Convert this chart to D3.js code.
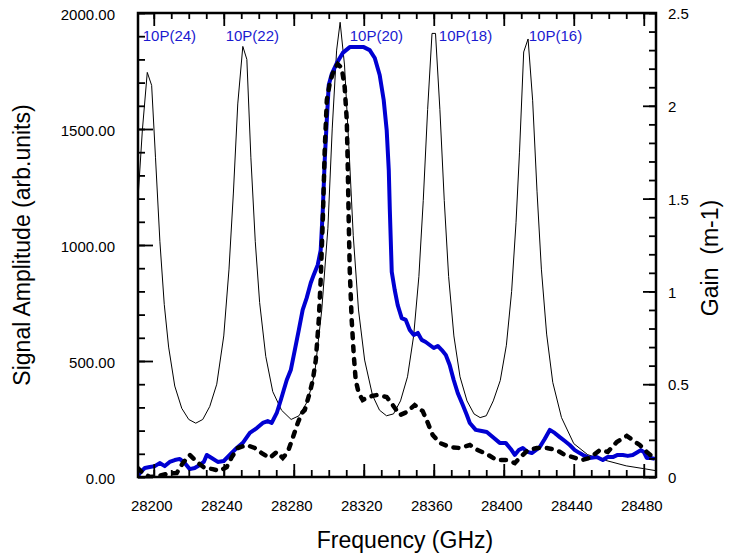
<!DOCTYPE html>
<html>
<head>
<meta charset="utf-8">
<title>Signal amplitude and gain vs frequency</title>
<script src="https://d3js.org/d3.v7.min.js"></script>
<style>
  body { margin: 0; background: #fff; }
  text { font-family: "Liberation Sans", Arial, sans-serif; fill: #000; }
</style>
</head>
<body>
<script>
// thin line: laser gain (right axis, m-1)
const gainFreq = [28191, 28193.5, 28196.3, 28198.8, 28201, 28203.5, 28206, 28208.5, 28212, 28216, 28220, 28224,
  28228, 28232, 28236, 28240, 28243, 28245.5, 28248, 28250.9, 28253.2, 28255.5, 28258, 28260.5, 28264, 28268, 28273, 28278.5,
  28283, 28288, 28292, 28296, 28299.5, 28302, 28304.5, 28306.5, 28309, 28311.5, 28314, 28317, 28320.5, 28325, 28329, 28333,
  28337, 28341, 28345, 28348.5, 28351.5, 28354, 28356.5, 28359, 28361, 28363.5, 28366, 28368.5, 28371.5, 28375, 28379, 28383, 28386.5,
  28390, 28394, 28398, 28401.5, 28404.5, 28407, 28409, 28411.4, 28413.9, 28416.5, 28419, 28421.5, 28424.5, 28428, 28433, 28440,
  28448, 28458, 28470, 28480, 28487];
const gainVal = [1.5, 1.87, 2.18, 2.11, 1.72, 1.27, 0.93, 0.70, 0.49, 0.37, 0.31, 0.29,
  0.31, 0.38, 0.50, 0.76, 1.12, 1.53, 2.01, 2.32, 2.25, 1.72, 1.27, 0.94, 0.65, 0.46, 0.36, 0.31,
  0.33, 0.41, 0.56, 0.90, 1.34, 1.88, 2.30, 2.45, 2.22, 1.78, 1.30, 0.90, 0.63, 0.44, 0.36, 0.33,
  0.34, 0.41, 0.54, 0.76, 1.08, 1.49, 1.98, 2.39, 2.39, 1.98, 1.49, 1.08, 0.76, 0.54, 0.41, 0.34, 0.32,
  0.33, 0.41, 0.52, 0.71, 1.00, 1.37, 1.75, 2.29, 2.36, 2.03, 1.54, 1.12, 0.77, 0.51, 0.32, 0.18,
  0.12, 0.09, 0.06, 0.045, 0.034];

// thick blue line: signal amplitude
const blueFreq = [28190.9, 28192.6, 28194.9, 28197.7, 28200.6, 28203.4, 28206.3, 28209.1, 28212, 28214.9, 28217.7, 28220.6,
  28223.4, 28226.3, 28228.6, 28230.3, 28233.1, 28236.6, 28240, 28243.4, 28247.4, 28250.9, 28254.9, 28258.9, 28262.3, 28265.1,
  28267.4, 28270.3, 28272.6, 28274.3, 28276, 28278.3, 28280.6, 28282.9, 28285.1, 28287.4, 28289.7, 28291.4, 28293.7, 28295.4,
  28296.6, 28297.7, 28298.9, 28300, 28301.7, 28304.6, 28308, 28312, 28316, 28320, 28323.4, 28326.3, 28329.1, 28331.4, 28333.1,
  28334.3, 28334.9, 28336, 28337.7, 28339.4, 28341.7, 28344, 28346.3, 28348.6, 28350.9, 28353.1, 28355.4, 28357.7, 28360,
  28362.3, 28364.6, 28366.9, 28369.1, 28371.4, 28373.7, 28376.6, 28378.9, 28380.6, 28384, 28387.4, 28390.3, 28393.7, 28397.7,
  28401.1, 28404, 28406.3, 28408.6, 28410.9, 28413.7, 28416, 28418.3, 28420.6, 28423.4, 28426.3, 28429.1, 28432, 28434.9,
  28437.7, 28440.6, 28443.4, 28446.3, 28449.1, 28453.1, 28456.6, 28459.4, 28462.3, 28465.1, 28468, 28470.9, 28473.7, 28476.6,
  28478.3, 28480, 28481.7, 28484, 28486.3];
const blueAmp = [4, 22, 39, 43, 47, 60, 47, 65, 73, 78, 60, 34,
  39, 52, 65, 95, 82, 65, 69, 95, 125, 147, 190, 211, 233, 241,
  233, 276, 332, 375, 418, 461, 547, 634, 720, 772, 836, 871, 914, 978,
  1151, 1366, 1539, 1690, 1737, 1784, 1828, 1853, 1853, 1853, 1840, 1806, 1733, 1625, 1496,
  1323, 1151, 884, 806, 741, 685, 677, 634, 612, 621, 591, 582, 569, 556,
  565, 547, 526, 483, 418, 362, 310, 267, 233, 203, 198, 194, 172, 147,
  147, 121, 95, 116, 125, 108, 103, 116, 129, 164, 203, 190, 172, 155,
  138, 116, 103, 91, 82, 86, 73, 86, 86, 95, 95, 91, 95, 108,
  116, 108, 82, 82, 78];

// thick dashed line: second signal
const dashFreq = [28190.9, 28193.1, 28197.7, 28202.3, 28207.4, 28213.1, 28216.6, 28220.6, 28224.6, 28229.1, 28233.7, 28237.7,
  28241.7, 28244.6, 28248, 28253.1, 28257.7, 28261.7, 28266.3, 28270.3, 28273.7, 28276.6, 28279.4, 28282.3, 28284.6, 28286.3,
  28289.1, 28290.9, 28292.6, 28294.3, 28295.4, 28296.6, 28297.7, 28298.9, 28300.6, 28302.9, 28305.1, 28307.4, 28309.1, 28310.3,
  28310.9, 28311.4, 28312, 28313.1, 28314.3, 28315.4, 28317.1, 28319.4, 28321.7, 28324.6, 28327.4, 28330.3, 28333.1, 28336.6,
  28340.6, 28344.6, 28349.1, 28353.7, 28356.6, 28359.4, 28363.4, 28369.1, 28374.9, 28380.6, 28385.1, 28390.3, 28396, 28401.7,
  28406.3, 28409.1, 28413.7, 28418.9, 28424.6, 28430.3, 28434.9, 28439.4, 28444.6, 28449.1, 28454.9, 28459.4, 28464.6, 28470.3,
  28473.7, 28477.7, 28481.7, 28485.7];
const dashAmp = [39, 22, 0, 4, 13, 17, 60, 95, 65, 39, 34, 26,
  43, 86, 125, 138, 125, 103, 82, 108, 82, 108, 168, 233, 276, 289,
  362, 418, 504, 677, 849, 1108, 1409, 1625, 1698, 1754, 1780, 1763, 1681, 1539,
  1323, 1108, 892, 677, 526, 418, 362, 332, 341, 349, 353, 349, 345, 310,
  267, 280, 310, 284, 233, 181, 147, 129, 125, 138, 116, 99, 73, 73,
  60, 82, 116, 125, 125, 116, 95, 86, 73, 82, 116, 108, 151, 177,
  159, 138, 108, 82];

// laser line labels
const lineNames = ["10P(24)", "10P(22)", "10P(20)", "10P(18)", "10P(16)"];
const lineNameFreq = [28193.7, 28241.1, 28312, 28362.9, 28414.3];

const xTicks = [28200, 28240, 28280, 28320, 28360, 28400, 28440, 28480];
const ampTicks = [0, 500, 1000, 1500, 2000];
const gainTicks = [0, 0.5, 1, 1.5, 2, 2.5];

const W = 736, H = 560;
const plot = { left: 138, right: 656, top: 13, bottom: 477 };

const svg = d3.select("body").append("svg")
  .attr("width", W)
  .attr("height", H);

const x = d3.scaleLinear().domain([28191, 28487]).range([plot.left, plot.right]);
const yAmp = d3.scaleLinear().domain([0, 2000]).range([plot.bottom, plot.top]);
const yGain = d3.scaleLinear().domain([0, 2.5]).range([plot.bottom, plot.top]);

svg.append("clipPath").attr("id", "clip")
  .append("rect")
  .attr("x", plot.left).attr("y", plot.top)
  .attr("width", plot.right - plot.left)
  .attr("height", plot.bottom - plot.top);

const gLines = svg.append("g").attr("clip-path", "url(#clip)");

// gain curve
gLines.append("path")
  .datum(d3.zip(gainFreq, gainVal))
  .attr("fill", "none")
  .attr("stroke", "#000")
  .attr("stroke-width", 1)
  .attr("d", d3.line().x(d => x(d[0])).y(d => yGain(d[1])));

// blue signal
gLines.append("path")
  .datum(d3.zip(blueFreq, blueAmp))
  .attr("fill", "none")
  .attr("stroke", "#0000d2")
  .attr("stroke-width", 4)
  .attr("stroke-linejoin", "round")
  .attr("d", d3.line().x(d => x(d[0])).y(d => yAmp(d[1])));

// dashed signal
gLines.append("path")
  .datum(d3.zip(dashFreq, dashAmp))
  .attr("fill", "none")
  .attr("stroke", "#000")
  .attr("stroke-width", 4.5)
  .attr("stroke-linecap", "round")
  .attr("stroke-dasharray", "5,8")
  .attr("d", d3.line().x(d => x(d[0])).y(d => yAmp(d[1])));

// axes (ticks point inward)
const minorX = d3.range(28200, 28487, 10);

svg.append("g")
  .attr("transform", `translate(0,${plot.bottom})`)
  .call(d3.axisTop(x).tickValues(minorX).tickSize(7).tickFormat(""));
svg.append("g")
  .attr("transform", `translate(0,${plot.bottom})`)
  .call(d3.axisTop(x).tickValues(xTicks).tickSize(13).tickFormat(""));
svg.append("g")
  .attr("transform", `translate(0,${plot.top})`)
  .call(d3.axisBottom(x).tickValues(minorX).tickSize(6).tickFormat(""));
svg.append("g")
  .attr("transform", `translate(0,${plot.top})`)
  .call(d3.axisBottom(x).tickValues(xTicks).tickSize(13).tickFormat(""));

svg.append("g")
  .attr("transform", `translate(${plot.left},0)`)
  .call(d3.axisRight(yAmp).tickValues(d3.range(0, 2001, 100)).tickSize(7).tickFormat(""));
svg.append("g")
  .attr("transform", `translate(${plot.left},0)`)
  .call(d3.axisRight(yAmp).tickValues(ampTicks).tickSize(15).tickFormat(""));

svg.append("g")
  .attr("transform", `translate(${plot.right},0)`)
  .call(d3.axisLeft(yGain).tickValues(d3.range(0, 26).map(i => i / 10)).tickSize(7).tickFormat(""));
svg.append("g")
  .attr("transform", `translate(${plot.right},0)`)
  .call(d3.axisLeft(yGain).tickValues(gainTicks).tickSize(13).tickFormat(""));

svg.selectAll(".domain").remove();
svg.selectAll(".tick line").attr("stroke", "#000").attr("stroke-width", 1.8);

// frame
svg.append("rect")
  .attr("x", plot.left).attr("y", plot.top)
  .attr("width", plot.right - plot.left)
  .attr("height", plot.bottom - plot.top)
  .attr("fill", "none")
  .attr("stroke", "#000")
  .attr("stroke-width", 2.5);

// tick labels
svg.append("g").selectAll("text")
  .data(xTicks).enter().append("text")
  .attr("x", d => x(d) - 2)
  .attr("y", 511)
  .attr("text-anchor", "middle")
  .style("font-size", "15px")
  .text(d => d);

svg.append("g").selectAll("text")
  .data(ampTicks).enter().append("text")
  .attr("x", 115)
  .attr("y", d => yAmp(d) + 2)
  .attr("dy", "0.35em")
  .attr("text-anchor", "end")
  .style("font-size", "15px")
  .text(d => d3.format(".2f")(d));

svg.append("g").selectAll("text")
  .data(gainTicks).enter().append("text")
  .attr("x", 668)
  .attr("y", d => yGain(d) + 1)
  .attr("dy", "0.35em")
  .style("font-size", "15px")
  .text(d => d);

// laser line names
svg.append("g").selectAll("text")
  .data(lineNames).enter().append("text")
  .attr("x", (d, i) => x(lineNameFreq[i]))
  .attr("y", 41)
  .style("font-size", "15px")
  .style("fill", "#1a1ad0")
  .text(d => d);

// axis titles
svg.append("text")
  .attr("x", 405)
  .attr("y", 548)
  .attr("text-anchor", "middle")
  .style("font-size", "23px")
  .text("Frequency (GHz)");

svg.append("text")
  .attr("transform", "translate(30,245) rotate(-90)")
  .attr("text-anchor", "middle")
  .style("font-size", "23px")
  .text("Signal Amplitude (arb.units)");

svg.append("text")
  .attr("transform", "translate(718,258) rotate(-90)")
  .attr("text-anchor", "middle")
  .style("font-size", "23px")
  .style("white-space", "pre")
  .text("Gain  (m-1)");
</script>
</body>
</html>
